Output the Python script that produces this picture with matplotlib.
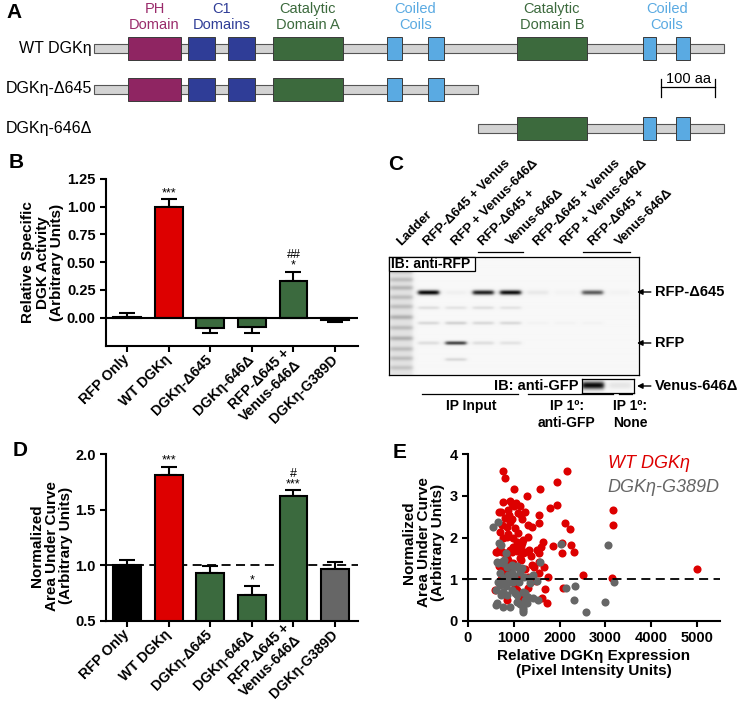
import numpy as np
import matplotlib
matplotlib.use('Agg')
import matplotlib.pyplot as plt
from matplotlib.patches import Rectangle

plt.rcParams['font.family'] = ['Liberation Sans', 'DejaVu Sans']

# ---------------- data ----------------
# Panel A: domain architecture (amino-acid units)
full_len = 1167
cut_pos = 711
ph_dom = [(63, 161)]
c1_dom = [(174, 224), (248, 298)]
cata_dom = [(331, 461)]
cc1_dom = [(543, 570), (619, 648)]
catb_dom = [(783, 913)]
cc2_dom = [(1017, 1041), (1078, 1104)]
construct_names = ["WT DGKη", "DGKη-Δ645", "DGKη-646Δ"]
construct_start = [0, 0, cut_pos]
construct_end = [full_len, cut_pos, full_len]
scale_len = 100

# Panels B & D: categories
categories = ["RFP Only", "WT DGKη", "DGKη-Δ645", "DGKη-646Δ",
              "RFP-Δ645 +\nVenus-646Δ", "DGKη-G389D"]
activity = [0.005, 1.0, -0.09, -0.085, 0.33, -0.025]
activity_err = [0.035, 0.07, 0.045, 0.055, 0.085, 0.01]
activity_marks = ["", "***", "", "", "##\n*", ""]
activity_ticks = [0.0, 0.25, 0.5, 0.75, 1.0, 1.25]
auc = [1.005, 1.815, 0.935, 0.735, 1.625, 0.965]
auc_err = [0.045, 0.07, 0.06, 0.075, 0.05, 0.065]
auc_marks = ["", "***", "", "*", "#\n***", ""]
auc_ticks = [0.5, 1.0, 1.5, 2.0]

# Panel C: blot band intensities per lane
blot_lane_labels = ["Ladder", "RFP-Δ645 + Venus", "RFP + Venus-646Δ", "RFP-Δ645 +",
                    "Venus-646Δ", "RFP-Δ645 + Venus", "RFP + Venus-646Δ",
                    "RFP-Δ645 +", "Venus-646Δ"]
rfp645_int = [0, 0.95, 0.03, 0.85, 0.92, 0.06, 0.02, 0.62, 0.02]
rfp_int = [0, 0.10, 0.72, 0.10, 0.08, 0.0, 0.0, 0.0, 0.0]
minor1_int = [0, 0.10, 0.08, 0.10, 0.08, 0.0, 0.0, 0.0, 0.0]
minor2_int = [0, 0.12, 0.15, 0.12, 0.12, 0.02, 0.02, 0.02, 0.0]
minor3_int = [0, 0.0, 0.12, 0.0, 0.0, 0.0, 0.0, 0.0, 0.0]
ladder_pos = [0.05, 0.12, 0.19, 0.26, 0.34, 0.42, 0.51, 0.60, 0.69, 0.78, 0.86, 0.94]
ladder_int = [0.12, 0.15, 0.15, 0.18, 0.15, 0.15, 0.2, 0.15, 0.2, 0.15, 0.15, 0.12]
venus_int = [0.95, 0.08]

# Panel E: scatter
wt_x = [760, 800, 1010, 1280, 1580, 1940, 2160, 770, 915, 1050, 1130, 720, 875, 1095, 1300,
        810, 920, 1028, 1094, 700, 846, 1306, 1174, 700, 809, 956, 1065, 1247, 628, 1138,
        882, 795, 956, 1394, 1028, 1174, 1101, 1320, 1560, 1550, 1790, 1950, 2110, 2230,
        1850, 2060, 2250, 2310, 2050, 1630, 1600, 1550, 1560, 1660, 1750, 2500, 3140, 5000,
        1560, 1680, 2080, 1610, 1720, 3160, 3160, 680, 900, 960, 1000, 1160, 740, 860, 990,
        1200, 760, 870, 1060, 1160, 620, 750, 910, 1060, 1330, 1190, 980, 860, 1150, 680,
        990, 790, 1240, 860, 1060, 1480, 600, 860, 1130, 1060, 1450, 1400, 1180, 1250, 950,
        1380, 1500, 720, 920, 1300]
wt_y = [3.6, 3.42, 3.16, 3.0, 3.17, 3.32, 3.6, 2.86, 2.88, 2.82, 2.75, 2.62, 2.66, 2.58, 2.3,
        2.46, 2.38, 2.22, 2.1, 2.14, 2.02, 2.02, 1.86, 1.74, 1.62, 1.65, 1.68, 1.65, 1.65, 1.5,
        1.46, 1.34, 1.1, 1.34, 0.82, 0.62, 0.46, 0.78, 2.53, 2.34, 2.7, 2.78, 2.35, 2.2,
        1.8, 1.86, 1.82, 1.66, 1.64, 1.89, 1.78, 1.62, 1.42, 1.3, 1.06, 1.1, 1.02, 1.25,
        1.14, 0.76, 0.78, 0.54, 0.42, 2.65, 2.29, 2.6, 2.55, 2.45, 2.75, 2.55, 2.3, 2.25, 2.0,
        1.95, 1.98, 2.08, 1.9, 1.8, 1.66, 1.66, 1.7, 1.72, 1.7, 1.62, 1.78, 1.5, 1.46, 1.32,
        1.38, 1.22, 1.24, 1.14, 1.02, 0.95, 0.74, 0.5, 0.46, 0.74, 1.3, 2.25, 2.45, 2.6, 2.8,
        1.55, 1.7, 1.0, 1.25, 1.05]
g389d_x = [550, 660, 680, 730, 640, 730, 780, 820, 700, 860, 985, 1060, 950, 1170, 1580, 1420,
           1340, 1500, 1110, 985, 660, 730, 830, 620, 770, 710, 950, 1060, 1200, 1310, 1420,
           1530, 620, 770, 910, 1060, 1190, 1200, 1280, 2020, 2140, 2340, 2310, 2570, 2980,
           3060, 3180, 780, 900, 1010, 1230, 663, 773, 956, 1065, 1138, 882, 809, 700, 919,
           846, 1028, 1247, 1357, 628, 1138, 1210, 1247]
g389d_y = [2.26, 2.38, 1.88, 1.82, 1.42, 1.41, 1.46, 1.62, 1.14, 1.3, 1.32, 1.32, 1.14, 1.26,
           1.41, 1.1, 1.02, 0.97, 0.94, 0.94, 0.94, 0.89, 0.84, 0.74, 0.7, 0.62, 0.74, 0.62,
           0.7, 0.58, 0.54, 0.5, 0.38, 0.34, 0.34, 0.45, 0.3, 0.21, 0.42, 1.85, 0.78, 0.84,
           0.5, 0.22, 0.45, 1.82, 0.93, 1.02, 1.06, 1.08, 1.06, 1.38, 1.38, 1.34, 1.3, 1.18,
           1.1, 0.98, 0.86, 0.94, 0.62, 0.66, 0.66, 0.9, 0.42, 0.4, 0.26, 0.5]
e_xticks = [0, 1000, 2000, 3000, 4000, 5000]
e_yticks = [0, 1, 2, 3, 4]

# ---------------- styling ----------------
RED = '#dd0000'
GREEN = '#3b6a3e'
GRAY = '#666666'
PH_C = '#8f2562'
C1_C = '#2f3d97'
CAT_C = '#3c6a3d'
CC_C = '#5aaae2'
BAR_C = '#d3d3d3'

W, H = 737, 703
fig = plt.figure(figsize=(W / 100, H / 100), dpi=100)


def px_axes(x0, y0, x1, y1, **kw):
    return fig.add_axes([x0 / W, 1 - y1 / H, (x1 - x0) / W, (y1 - y0) / H], **kw)


# ---------------- Panel A ----------------
axA = px_axes(0, 0, 737, 150)
s = 0.54
axA.set_xlim(-94 / s, (W - 94) / s)
axA.set_ylim(150, 0)
axA.axis('off')
row_y = [48, 89, 128]
dom_groups = [(ph_dom, PH_C, "PH\nDomain", '#9a2b6b'),
              (c1_dom, C1_C, "C1\nDomains", C1_C),
              (cata_dom, CAT_C, "Catalytic\nDomain A", CAT_C),
              (cc1_dom, CC_C, "Coiled\nCoils", CC_C),
              (catb_dom, CAT_C, "Catalytic\nDomain B", CAT_C),
              (cc2_dom, CC_C, "Coiled\nCoils", CC_C)]
for name, st, en, y in zip(construct_names, construct_start, construct_end, row_y):
    axA.add_patch(Rectangle((st, y - 4.5), en - st, 9, fc=BAR_C, ec='#555555', lw=0.8, zorder=1))
    for spans, col, _, _ in dom_groups:
        for (a, b) in spans:
            if a >= st and b <= en:
                axA.add_patch(Rectangle((a, y - 11.5), b - a, 23, fc=col, ec='#3a3a3a',
                                        lw=0.7, zorder=2))
    axA.text(-4, y, name, ha='right', va='center', fontsize=11.5)
for spans, col, lab, tcol in dom_groups:
    cx = (spans[0][0] + spans[-1][1]) / 2
    axA.text(cx, 17, lab, ha='center', va='center', color=tcol, fontsize=10.5, linespacing=1.15)
sb0 = 1050
axA.plot([sb0, sb0 + scale_len], [87, 87], color='black', lw=0.9)
axA.plot([sb0, sb0], [79, 97], color='black', lw=0.9)
axA.plot([sb0 + scale_len, sb0 + scale_len], [79, 97], color='black', lw=0.9)
axA.text(sb0 + scale_len / 2, 86, "100 aa", ha='center', va='bottom', fontsize=10.5)


def style_axes(ax):
    for sp in ['top', 'right']:
        ax.spines[sp].set_visible(False)
    for sp in ['left', 'bottom']:
        ax.spines[sp].set_linewidth(1.5)
    ax.tick_params(axis='both', width=1.5, length=4)


def style_bar_axes(ax, yticks, fmt):
    style_axes(ax)
    ax.set_yticks(yticks)
    ax.set_yticklabels([fmt.format(t) for t in yticks], fontsize=10.5, fontweight='bold')
    ax.set_xlim(-0.505, 5.55)
    ax.set_xticks(np.arange(len(categories)))
    ax.set_xticklabels(categories, rotation=45, ha='right', va='center',
                       rotation_mode='anchor', fontsize=10.2, fontweight='bold')
    ax.tick_params(axis='x', pad=4)


def draw_bars(ax, vals, errs, marks, colors, base):
    x = np.arange(len(vals))
    lower = [e if v < base else 0 for v, e in zip(vals, errs)]
    upper = [0 if v < base else e for v, e in zip(vals, errs)]
    ax.errorbar(x, vals, yerr=[lower, upper], fmt='none', ecolor='black', elinewidth=1.5,
                capsize=6, capthick=1.5, zorder=2)
    ax.bar(x, np.array(vals) - base, bottom=base, width=0.67, color=colors,
           edgecolor='black', linewidth=1.5, zorder=3)
    for i, m in enumerate(marks):
        if m:
            ax.annotate(m, (i, vals[i] + errs[i]), xytext=(0, 0), textcoords='offset points',
                        ha='center', va='bottom', fontsize=9, linespacing=0.85)


# ---------------- Panel B ----------------
axB = px_axes(106, 179, 358, 346)
colorsB = ['black', RED, GREEN, GREEN, GREEN, GREEN]
draw_bars(axB, activity, activity_err, activity_marks, colorsB, 0.0)
axB.axhline(0, color='black', lw=1.5, zorder=4)
axB.set_ylim(-0.255, 1.25)
style_bar_axes(axB, activity_ticks, '{:.2f}')
axB.set_ylabel("Relative Specific\nDGK Activity\n(Arbitrary Units)", fontsize=11,
               fontweight='bold', linespacing=1.05)
axB.yaxis.set_label_coords(-0.165, 0.5)

# ---------------- Panel D ----------------
axD = px_axes(106, 454, 358, 621)
colorsD = ['black', RED, GREEN, GREEN, GREEN, GRAY]
draw_bars(axD, auc, auc_err, auc_marks, colorsD, 0.5)
axD.axhline(1.0, color='black', lw=1.3, ls=(0, (5, 3)), zorder=1)
axD.set_ylim(0.5, 2.0)
style_bar_axes(axD, auc_ticks, '{:.1f}')
axD.set_ylabel("Normalized\nArea Under Curve\n(Arbitrary Units)", fontsize=11,
               fontweight='bold', linespacing=1.05)
axD.yaxis.set_label_coords(-0.13, 0.45)

# ---------------- Panel E ----------------
axE = px_axes(468, 454, 720, 621)
axE.scatter(wt_x, wt_y, s=34, color=RED, linewidths=0, zorder=2)
axE.scatter(g389d_x, g389d_y, s=34, color=GRAY, linewidths=0, zorder=3)
axE.axhline(1.0, color='black', lw=1.3, ls=(0, (5, 3)), zorder=4)
axE.set_xlim(0, 5500)
axE.set_ylim(0, 4)
style_axes(axE)
axE.set_xticks(e_xticks)
axE.set_xticklabels([str(t) for t in e_xticks], fontsize=10.5, fontweight='bold')
axE.set_yticks(e_yticks)
axE.set_yticklabels([str(t) for t in e_yticks], fontsize=10.5, fontweight='bold')
axE.set_ylabel("Normalized\nArea Under Curve\n(Arbitrary Units)", fontsize=11,
               fontweight='bold', linespacing=1.05)
axE.yaxis.set_label_coords(-0.09, 0.47)
axE.set_xlabel("Relative DGKη Expression\n(Pixel Intensity Units)", fontsize=11,
               fontweight='bold', linespacing=1.1)
axE.xaxis.set_label_coords(0.5, -0.17)

# ---------------- Panel C: blot ----------------
lane_x0, lane_dx = 401, 27.4
axC = px_axes(389, 257, 639, 375)
xl = (-0.44, 8.69)
lx = np.linspace(xl[0], xl[1], 500)
ly = np.linspace(0, 1, 240)
LX, LY = np.meshgrid(lx, ly)


def lane_prof(dx, half=0.38):
    return 1.0 / (1.0 + np.exp((np.abs(dx) - half) / 0.04))


img = np.full(LX.shape, 0.03)
for i in range(len(blot_lane_labels)):
    prof = lane_prof(LX - i)
    for yb, ints, sy in [(0.30, rfp645_int, 0.014), (0.73, rfp_int, 0.011),
                         (0.43, minor1_int, 0.010), (0.56, minor2_int, 0.010),
                         (0.87, minor3_int, 0.010)]:
        img += ints[i] * prof * np.exp(-0.5 * ((LY - yb) / sy) ** 2)
prof0 = lane_prof(LX - 0, half=0.42)
for yb, it in zip(ladder_pos, ladder_int):
    img += it * prof0 * np.exp(-0.5 * ((LY - yb) / 0.014) ** 2)
img += 0.08 * prof0
img = np.clip(img, 0, 1)
axC.imshow(img, cmap='gray_r', vmin=0, vmax=1, extent=(xl[0], xl[1], 1, 0),
           aspect='auto', interpolation='bilinear')
axC.set_xlim(*xl)
axC.set_ylim(1, 0)
axC.set_xticks([])
axC.set_yticks([])
for sp in axC.spines.values():
    sp.set_linewidth(0.9)

# anti-GFP strip
axG = px_axes(582, 379, 634, 393)
gl = (6.6, 8.5)
gx = np.linspace(gl[0], gl[1], 120)
gy = np.linspace(0, 1, 30)
GX, GY = np.meshgrid(gx, gy)
gimg = np.full(GX.shape, 0.02)
for k, lane in enumerate([7, 8]):
    gimg += venus_int[k] * lane_prof(GX - lane, 0.4) * np.exp(-0.5 * ((GY - 0.45) / 0.2) ** 2)
gimg = np.clip(gimg, 0, 1)
axG.imshow(gimg, cmap='gray_r', vmin=0, vmax=1, extent=(gl[0], gl[1], 1, 0),
           aspect='auto', interpolation='bilinear')
axG.set_xticks([])
axG.set_yticks([])
for sp in axG.spines.values():
    sp.set_linewidth(0.9)

# ---------------- overlay for layout text ----------------
ov = fig.add_axes([0, 0, 1, 1], zorder=10)
ov.set_xlim(0, W)
ov.set_ylim(H, 0)
ov.axis('off')
ov.patch.set_alpha(0)

for letter, (lx_, ly_) in zip("ABCDE", [(14, 13), (16, 163), (396, 164), (20, 450), (400, 452)]):
    ov.text(lx_, ly_, letter, fontsize=15, fontweight='bold', ha='center', va='center')

for i, lab in enumerate(blot_lane_labels):
    ov.text(lane_x0 + lane_dx * i + 2, 248, lab, rotation=45, ha='left', va='bottom',
            rotation_mode='anchor', fontsize=9.5, fontweight='bold')
for a, b in [(478, 523), (583, 630)]:
    ov.plot([a, b], [252, 252], color='black', lw=0.9)

ov.add_patch(Rectangle((389, 257), 86, 14, fc='white', ec='black', lw=0.9))
ov.text(391, 264.5, "IB: anti-RFP", ha='left', va='center', fontsize=10, fontweight='bold')

arrow_kw = dict(arrowstyle='-|>', color='black', lw=1.0, mutation_scale=8,
                shrinkA=1, shrinkB=0)
for txt, y in [("RFP-Δ645", 292), ("RFP", 343), ("Venus-646Δ", 386)]:
    ov.annotate(txt, xy=(637, y), xytext=(655, y), ha='left', va='center',
                fontsize=10.5, fontweight='bold', arrowprops=arrow_kw)
ov.text(579, 386, "IB: anti-GFP", ha='right', va='center', fontsize=10.5, fontweight='bold')
for a, b in [(422, 518), (528, 613), (619, 632)]:
    ov.plot([a, b], [394, 394], color='black', lw=0.9)
ov.text(471, 399, "IP Input", ha='center', va='top', fontsize=10, fontweight='bold')
ov.text(567, 399, "IP 1º:\nanti-GFP", ha='center', va='top', fontsize=10,
        fontweight='bold', linespacing=1.25)
ov.text(630, 399, "IP 1º:\nNone", ha='center', va='top', fontsize=10,
        fontweight='bold', linespacing=1.25)

ov.text(608, 464, "WT DGKη", ha='left', va='center', fontsize=13, style='italic', color=RED)
ov.text(607, 488, "DGKη-G389D", ha='left', va='center', fontsize=13, style='italic',
        color=GRAY)

fig.savefig('out.png', dpi=100)
